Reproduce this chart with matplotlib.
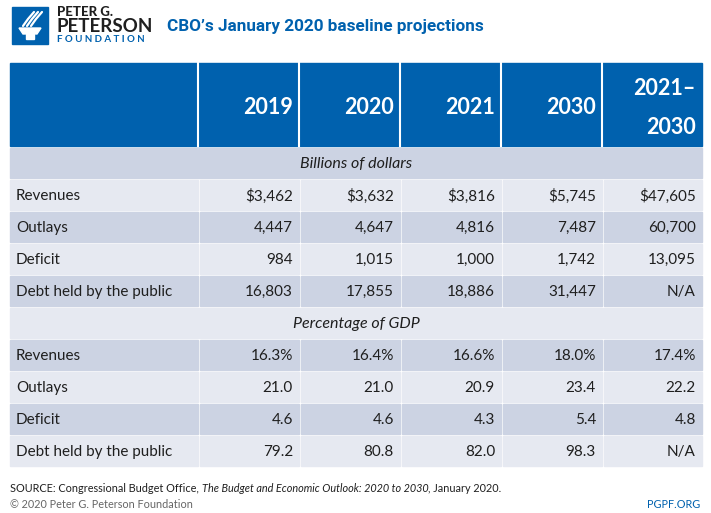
import matplotlib.pyplot as plt
from matplotlib.patches import Rectangle, Polygon

plt.rcParams['font.family'] = ['Lato', 'DejaVu Sans']

# table data
columns = ['2019', '2020', '2021', '2030', '2021–\n2030']
row_labels = ['Revenues', 'Outlays', 'Deficit', 'Debt held by the public']
sections = ['Billions of dollars', 'Percentage of GDP']
dollars = [
    ['$3,462', '$3,632', '$3,816', '$5,745', '$47,605'],
    ['4,447', '4,647', '4,816', '7,487', '60,700'],
    ['984', '1,015', '1,000', '1,742', '13,095'],
    ['16,803', '17,855', '18,886', '31,447', 'N/A'],
]
pct_gdp = [
    ['16.3%', '16.4%', '16.6%', '18.0%', '17.4%'],
    ['21.0', '21.0', '20.9', '23.4', '22.2'],
    ['4.6', '4.6', '4.3', '5.4', '4.8'],
    ['79.2', '80.8', '82.0', '98.3', 'N/A'],
]

blue = '#0061ae'
dark = '#ccd3e3'
light = '#e6e9f1'
ink = '#1f1f1f'

fig = plt.figure(figsize=(7.11, 5.13), dpi=100)
ax = fig.add_axes([0, 0, 1, 1])
ax.set_xlim(0, 711)
ax.set_ylim(513, 0)
ax.axis('off')

# logo
ax.add_patch(Rectangle((12, 7), 36, 37, color=blue))
ax.add_patch(Polygon([[19, 28], [41, 28], [37, 34], [23, 34]], color='white'))
ax.add_patch(Rectangle((26, 34), 8, 5, color='white'))
for dx in [0, 4, 8]:
    ax.plot([23 + dx, 28 + dx, 34 + dx], [26, 19, 12], color='white', lw=1.6, solid_capstyle='round')
ax.text(57, 12, 'PETER G.', fontsize=9.5, fontweight='black', color=ink, va='center')
ax.text(56, 26, 'PETERSON', fontsize=13.5, fontweight='bold', color=ink, va='center')
ax.text(57, 40, 'F O U N D A T I O N', fontsize=7, fontweight='bold', color=blue, va='center')

ax.text(167, 26, 'CBO’s January 2020 baseline projections', fontsize=12.3, fontweight='bold',
        color=blue, va='center', family=['Roboto', 'DejaVu Sans'])

# column edges
edges = [10, 198, 299, 400, 501, 602, 702]
gap = 1.5

# header
ax.add_patch(Rectangle((10, 63), 692, 83, color=blue))
for x in edges[1:-1]:
    ax.plot([x, x], [63, 146], color='white', lw=1.5)
for j, col in enumerate(columns):
    ax.text(edges[j + 2] - 6, 108, col, fontsize=15.5, fontweight='bold', color='white',
            ha='right', va='center', linespacing=2.1)

# body rows
y = 148
row_h = 32
k = 0
for sec, block in zip(sections, [dollars, pct_gdp]):
    c = dark if k % 2 == 0 else light
    ax.add_patch(Rectangle((10, y), 692, row_h - 2, color=c))
    ax.text(356, y + 16, sec, fontsize=11.5, style='italic', color=ink, ha='center', va='center')
    y += row_h
    k += 1
    for label, vals in zip(row_labels, block):
        c = dark if k % 2 == 0 else light
        for j in range(6):
            ax.add_patch(Rectangle((edges[j] + (gap if j else 0), y),
                                   edges[j + 1] - edges[j] - (gap if j else 0), row_h - 2, color=c))
        ax.text(16, y + 16, label, fontsize=11, color=ink, va='center')
        for j, v in enumerate(vals):
            ax.text(edges[j + 2] - 6, y + 16, v, fontsize=11, color=ink, ha='right', va='center')
        y += row_h
        k += 1

# source line, built piece by piece so the italic title sits inline
fig.canvas.draw()
renderer = fig.canvas.get_renderer()
x = 10
for piece, st in [('SOURCE: Congressional Budget Office, ', 'normal'),
                  ('The Budget and Economic Outlook: 2020 to 2030', 'italic'),
                  (', January 2020.', 'normal')]:
    t = ax.text(x, 488, piece, fontsize=7.8, style=st, color=ink, va='center')
    bb = t.get_window_extent(renderer)
    x += bb.width
ax.text(10, 505, '© 2020 Peter G. Peterson Foundation', fontsize=7.8, color='#666666', va='center')
ax.text(700, 505, 'PGPF.ORG', fontsize=7.8, color=blue, ha='right', va='center')

fig.savefig('out.png', dpi=100)
